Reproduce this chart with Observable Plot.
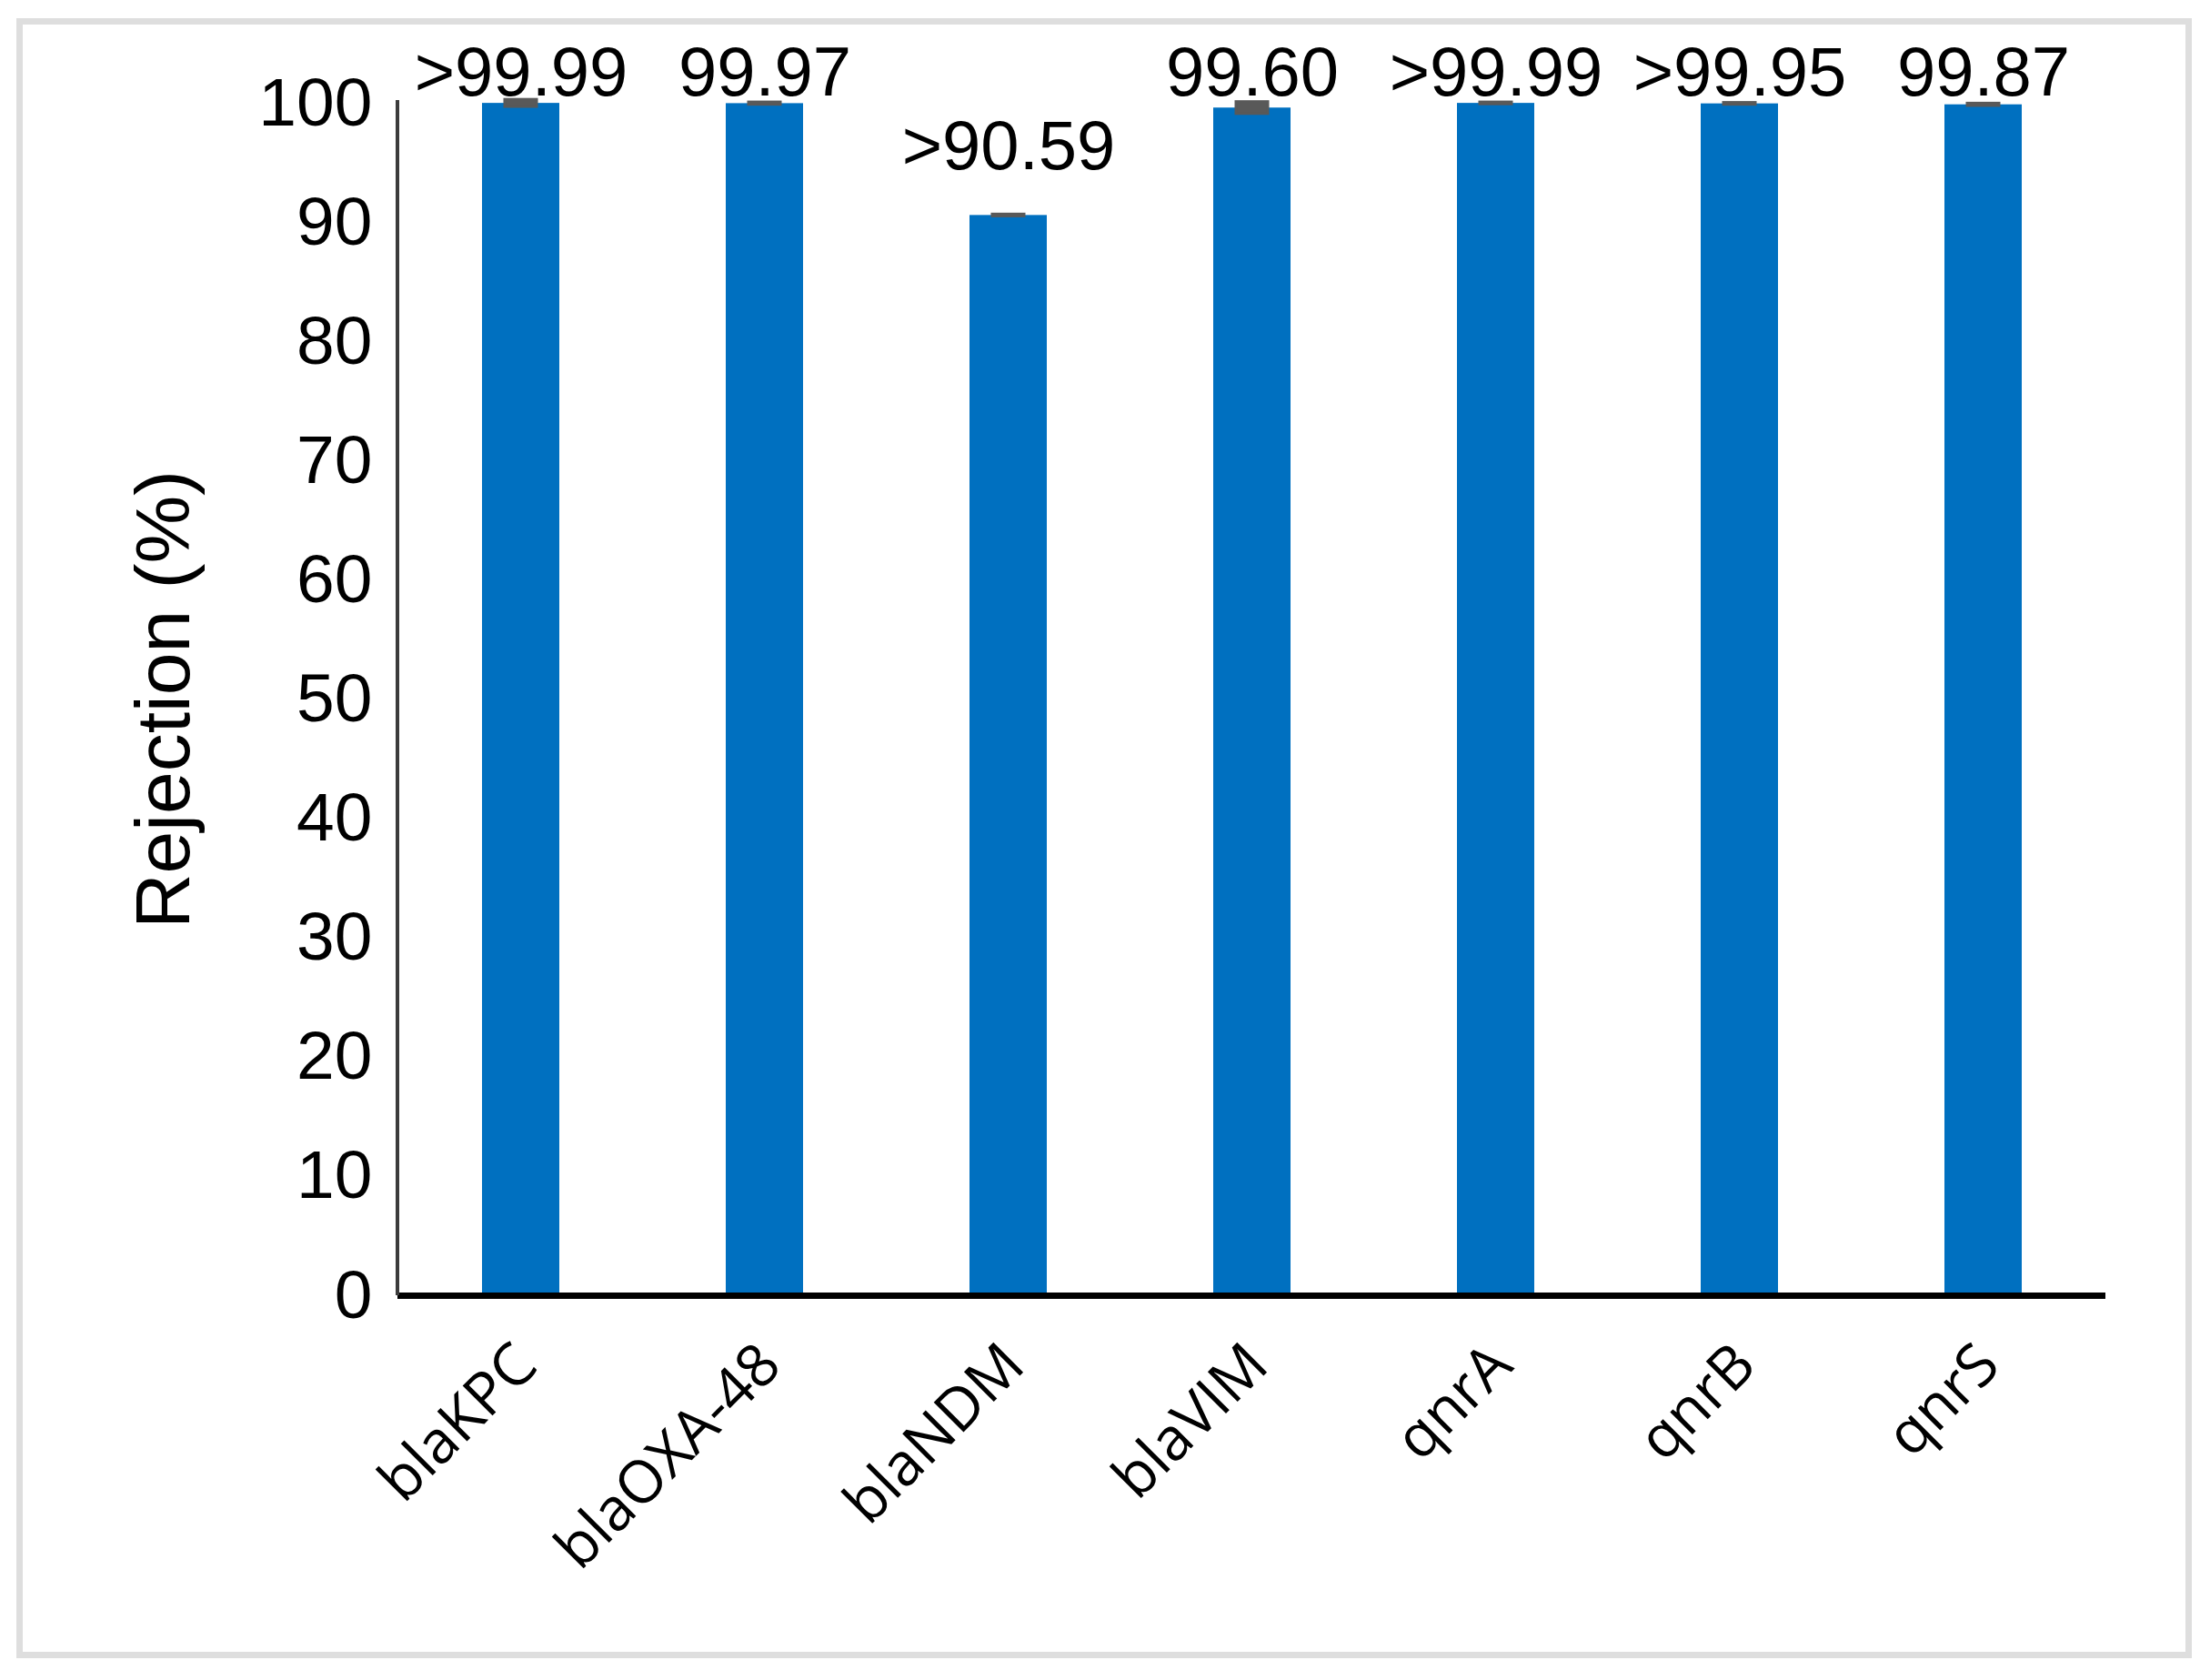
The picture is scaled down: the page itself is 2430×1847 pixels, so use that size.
<!DOCTYPE html>
<html><head><meta charset="utf-8">
<script src="https://cdn.jsdelivr.net/npm/d3@7"></script>
<script src="https://cdn.jsdelivr.net/npm/@observablehq/plot@0.6"></script>
<style>
html,body{margin:0;padding:0;background:#fff;}
#wrap{position:relative;width:2430px;height:1847px;background:#fff;overflow:hidden;}
#border{position:absolute;left:18px;top:20px;width:2392px;height:1803px;border:7px solid #dedede;box-sizing:border-box;pointer-events:none;}
#chart{position:absolute;left:0;top:0;}
</style></head><body>
<div id="wrap"><div id="chart"></div><div id="border"></div></div>
<script>
const genes = ["blaKPC", "blaOXA-48", "blaNDM", "blaVIM", "qnrA", "qnrB", "qnrS"];
const rejection = [99.99, 99.97, 90.59, 99.60, 99.99, 99.95, 99.87];
const errors = [0.3, 0.1, 0.08, 0.5, 0.08, 0.08, 0.1];
const valueLabels = [">99.99", "99.97", ">90.59", "99.60", ">99.99", ">99.95", "99.87"];
const yTicks = [0, 10, 20, 30, 40, 50, 60, 70, 80, 90, 100];
const yLabel = "Rejection (%)";

const data = genes.map((g, i) => ({gene: g, value: rejection[i], err: errors[i], label: valueLabels[i]}));

function yAxisLine(a, b, c, d) {
  const first = a && typeof a.y === "function";
  const scales = first ? a : b;
  const dims = first ? b : d;
  return d3.create("svg:line")
    .attr("x1", dims.marginLeft).attr("x2", dims.marginLeft)
    .attr("y1", scales.y(100) - 3).attr("y2", scales.y(0))
    .attr("stroke", "#3c3c3c").attr("stroke-width", 4)
    .node();
}

const chart = Plot.plot({
  width: 2430,
  height: 1847,
  marginLeft: 437,
  marginRight: 115,
  marginTop: 113,
  marginBottom: 423,
  style: {background: "transparent", fontFamily: "'Liberation Sans', Arial, sans-serif", color: "#000", overflow: "visible"},
  x: {domain: genes, paddingInner: 0.683, paddingOuter: 0.3415, label: null},
  y: {domain: [0, 100], label: null},
  marks: [
    Plot.barY(data, {x: "gene", y: "value", fill: "#0070C0"}),
    Plot.barY(data, {x: "gene", y1: d => d.value - d.err, y2: d => d.value + d.err, fill: "#595959", stroke: "#595959", strokeWidth: 3, insetLeft: 25, insetRight: 25}),
    Plot.ruleY([0], {stroke: "#000", strokeWidth: 7}),
    yAxisLine,
    Plot.axisY({ticks: yTicks, tickSize: 0, tickPadding: 28, fontSize: 75, fill: "#000", label: null}),
    Plot.axisX({tickSize: 0, tickRotate: -45, tickPadding: 65, dx: 6, fontSize: 65, fontFamily: "'Open Sans', sans-serif", fill: "#000", label: null}),
    Plot.text([yLabel], {text: d => d, frameAnchor: "left", textAnchor: "middle", rotate: -90, dx: -256, fontSize: 84, fill: "#000", lineAnchor: "middle"}),
    Plot.text(data.filter(d => d.value >= 95), {x: "gene", text: "label", frameAnchor: "top", lineAnchor: "bottom", dy: -9, fontSize: 76, fill: "#000"}),
    Plot.text(data.filter(d => d.value < 95), {x: "gene", y: "value", text: "label", lineAnchor: "bottom", dy: -51, fontSize: 76, fill: "#000"})
  ]
});
document.getElementById("chart").appendChild(chart);
</script>
</body></html>
